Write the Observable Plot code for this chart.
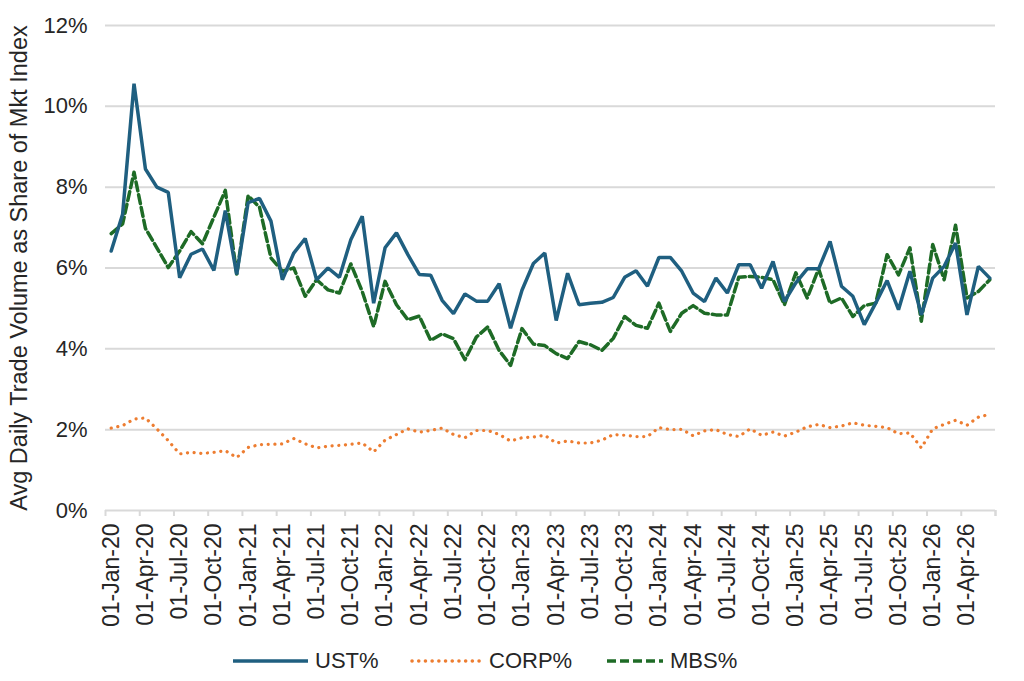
<!DOCTYPE html>
<html>
<head>
<meta charset="utf-8">
<script src="https://cdn.jsdelivr.net/npm/d3@7"></script>
<script src="https://cdn.jsdelivr.net/npm/@observablehq/plot@0.6"></script>
<style>
  html, body { margin: 0; padding: 0; background: #fff; }
  body { width: 1024px; height: 681px; overflow: hidden; font-family: "Liberation Sans", Arial, sans-serif; }
  #legend { position: relative; height: 41px; width: 1024px; }
  .item { position: absolute; top: 0; height: 41px; display: flex; align-items: center; font-size: 22px; color: #262626; }
  .item svg { margin-right: 7px; }
</style>
</head>
<body>
<div id="chart"></div>
<div id="legend"></div>
<script>
// Tick labels (one every quarter)
const tickLabels = [
  "01-Jan-20","01-Apr-20","01-Jul-20","01-Oct-20",
  "01-Jan-21","01-Apr-21","01-Jul-21","01-Oct-21",
  "01-Jan-22","01-Apr-22","01-Jul-22","01-Oct-22",
  "01-Jan-23","01-Apr-23","01-Jul-23","01-Oct-23",
  "01-Jan-24","01-Apr-24","01-Jul-24","01-Oct-24",
  "01-Jan-25","01-Apr-25","01-Jul-25","01-Oct-25",
  "01-Jan-26","01-Apr-26"
];

// Monthly series, Jan-2020 .. Jun-2026 (percent)
const ust = [
  6.42, 7.33, 10.56, 8.45, 8.00, 7.87, 5.76, 6.34, 6.47, 5.94, 7.42, 5.84,
  7.62, 7.72, 7.16, 5.71, 6.37, 6.73, 5.71, 6.00, 5.77, 6.70, 7.28, 5.13,
  6.50, 6.87, 6.33, 5.84, 5.82, 5.20, 4.87, 5.36, 5.18, 5.18, 5.61, 4.51,
  5.45, 6.11, 6.37, 4.70, 5.87, 5.09, 5.13, 5.15, 5.27, 5.77, 5.93, 5.55,
  6.26, 6.26, 5.92, 5.38, 5.17, 5.75, 5.38, 6.08, 6.08, 5.50, 6.16, 5.17,
  5.63, 5.98, 5.98, 6.66, 5.55, 5.30, 4.60, 5.13, 5.69, 4.97, 5.92, 4.84,
  5.75, 6.04, 6.62, 4.84, 6.04, 5.75
];
const corp = [
  2.04, 2.10, 2.26, 2.29, 2.02, 1.73, 1.40, 1.44, 1.41, 1.44, 1.48, 1.31,
  1.56, 1.63, 1.64, 1.65, 1.78, 1.65, 1.55, 1.59, 1.61, 1.64, 1.67, 1.45,
  1.74, 1.88, 2.02, 1.94, 1.98, 2.04, 1.88, 1.80, 1.98, 1.98, 1.88, 1.72,
  1.80, 1.82, 1.86, 1.67, 1.72, 1.67, 1.67, 1.74, 1.88, 1.86, 1.83, 1.83,
  2.05, 2.00, 2.01, 1.85, 1.97, 2.00, 1.88, 1.83, 2.02, 1.86, 1.94, 1.84,
  1.94, 2.07, 2.13, 2.05, 2.09, 2.17, 2.11, 2.08, 2.05, 1.90, 1.92, 1.55,
  2.02, 2.13, 2.23, 2.11, 2.31, 2.38
];
const mbs = [
  6.85, 7.09, 8.37, 6.98, 6.50, 6.01, 6.42, 6.90, 6.60, 7.26, 7.92, 5.85,
  7.79, 7.50, 6.25, 5.92, 6.00, 5.30, 5.71, 5.46, 5.38, 6.10, 5.42, 4.55,
  5.67, 5.09, 4.72, 4.81, 4.21, 4.37, 4.25, 3.73, 4.29, 4.54, 3.96, 3.59,
  4.50, 4.12, 4.08, 3.88, 3.76, 4.18, 4.10, 3.96, 4.26, 4.80, 4.58, 4.51,
  5.13, 4.43, 4.88, 5.07, 4.88, 4.84, 4.84, 5.77, 5.79, 5.77, 5.71, 5.09,
  5.88, 5.26, 5.98, 5.13, 5.26, 4.80, 5.07, 5.13, 6.33, 5.83, 6.50, 4.68,
  6.58, 5.71, 7.06, 5.26, 5.42, 5.71
];

const yTicks = [0, 2, 4, 6, 8, 10, 12];
const n = ust.length;
const idx = d3.range(n);
const labelTicks = tickLabels.map((_, k) => k * 3);
const boundaryTicks = d3.range(-0.5, n, 3).concat([n - 0.5]);

const colors = { ust: "#1f5f80", corp: "#ed7d31", mbs: "#1e6b26" };

const chart = Plot.plot({
  width: 1024,
  height: 640,
  marginLeft: 105,
  marginRight: 29,
  marginTop: 25,
  marginBottom: 130,
  style: { fontFamily: "'Liberation Sans', Arial, sans-serif", fontSize: "22px", color: "#262626", background: "#fff" },
  x: { type: "linear", domain: [-0.5, n - 0.5] },
  y: { domain: [0, 12] },
  marks: [
    Plot.ruleY(yTicks, { stroke: "#d9d9d9", strokeWidth: 2 }),
    Plot.axisY({ ticks: yTicks, tickSize: 0, tickPadding: 18, tickFormat: d => d + "%", fontSize: 22, label: null }),
    Plot.axisY({ ticks: [], fontSize: 23.5,
      label: "Avg Daily Trade Volume as Share of Mkt Index", labelAnchor: "center", labelOffset: 95, labelArrow: "none" }),
    Plot.axisX({ ticks: boundaryTicks, tickSize: 6, tickFormat: () => "", stroke: "#d9d9d9", strokeWidth: 2, label: null }),
    Plot.axisX({ ticks: labelTicks, tickSize: 0, tickPadding: 13, tickRotate: -90, fontSize: 23,
      tickFormat: i => tickLabels[i / 3], label: null }),
    Plot.line(idx, { x: d => d, y: d => corp[d], stroke: colors.corp, strokeWidth: 3.2,
      strokeDasharray: "0.1 6.6", strokeLinecap: "round" }),
    Plot.line(idx, { x: d => d, y: d => mbs[d], stroke: colors.mbs, strokeWidth: 3.5,
      strokeDasharray: "9 4" }),
    Plot.line(idx, { x: d => d, y: d => ust[d], stroke: colors.ust, strokeWidth: 3.5, strokeLinejoin: "miter" })
  ]
});
document.getElementById("chart").appendChild(chart);

// Legend
const legendItems = [
  { name: "UST%", color: colors.ust, dash: null, cap: "butt", w: 75, left: 233 },
  { name: "CORP%", color: colors.corp, dash: "0.1 6.6", cap: "round", w: 72, left: 410 },
  { name: "MBS%", color: colors.mbs, dash: "9 4", cap: "butt", w: 56, left: 607 }
];
const legend = document.getElementById("legend");
legendItems.forEach(it => {
  const div = document.createElement("div");
  div.className = "item";
  div.style.left = it.left + "px";
  div.innerHTML = `<svg width="${it.w}" height="10"><line x1="${it.cap === 'round' ? 2 : 0}" x2="${it.w}" y1="5" y2="5" stroke="${it.color}" stroke-width="3.5" ${it.dash ? `stroke-dasharray="${it.dash}"` : ""} stroke-linecap="${it.cap}"/></svg><span>${it.name}</span>`;
  legend.appendChild(div);
});
</script>
</body>
</html>
